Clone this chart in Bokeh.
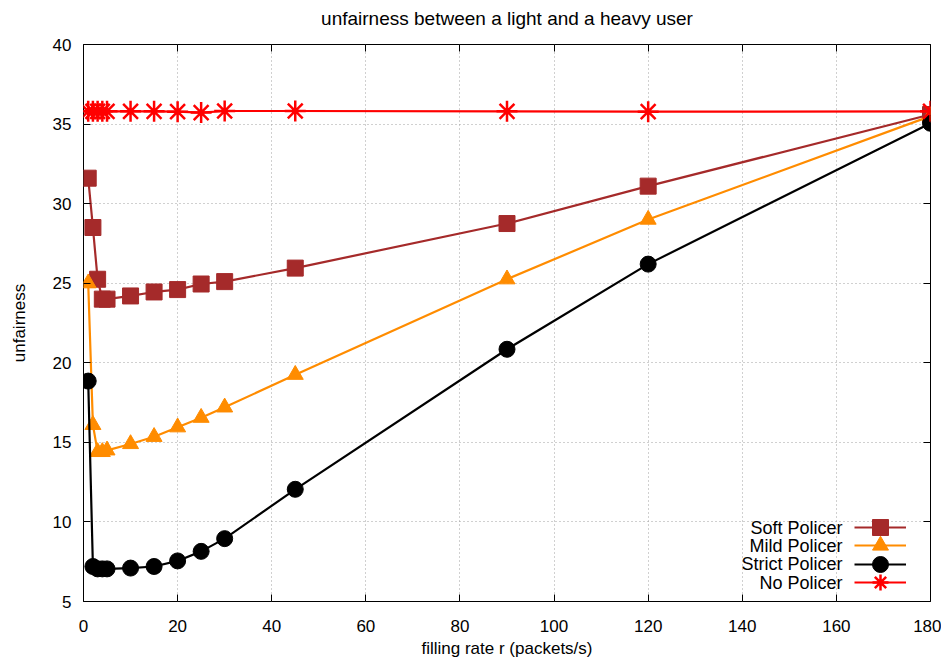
from bokeh.plotting import figure
from bokeh.models import (Range1d, LinearAxis, Legend, LegendItem, Label, FixedTicker)
from bokeh.core.properties import value
from bokeh.embed import file_html
from bokeh.resources import INLINE

rate = [1, 2, 3, 4, 5, 10, 15, 20, 25, 30, 45, 90, 120, 180]
soft = [31.6, 28.5, 25.25, 24.0, 24.0, 24.2, 24.45, 24.6, 24.95, 25.1, 25.95, 28.75, 31.1, 35.6]
mild = [25.0, 16.1, 14.4, 14.4, 14.5, 14.9, 15.35, 15.95, 16.55, 17.2, 19.25, 25.25, 29.0, 35.5]
strict = [18.85, 7.2, 7.05, 7.05, 7.05, 7.1, 7.2, 7.55, 8.15, 8.95, 12.05, 20.85, 26.2, 35.05]
nopol = [35.8, 35.8, 35.8, 35.8, 35.8, 35.8, 35.8, 35.78, 35.72, 35.82, 35.82, 35.8, 35.78, 35.8]

series_names = ["Soft Policer", "Mild Policer", "Strict Policer", "No Policer"]
x_ticks = [0, 20, 40, 60, 80, 100, 120, 140, 160, 180]
y_ticks = [5, 10, 15, 20, 25, 30, 35, 40]
title_text = "unfairness between a light and a heavy user"

FONT = "Liberation Sans"

p = figure(frame_width=847, frame_height=557, min_border_left=83, min_border_right=11,
           min_border_top=44, min_border_bottom=58,
           x_range=Range1d(0, 180), y_range=Range1d(5, 40),
           output_backend="svg", toolbar_location=None,
           x_axis_label="filling rate r (packets/s)", y_axis_label="unfairness")
p.title = None

p.outline_line_color = "#000000"
p.outline_line_width = 1
p.background_fill_color = "white"
p.border_fill_color = "white"

for ax in (p.xaxis[0], p.yaxis[0]):
    ax.major_label_text_font = FONT
    ax.major_label_text_font_size = "17px"
    ax.major_label_text_color = "#000000"
    ax.axis_label_text_font = FONT
    ax.axis_label_text_font_size = "17px"
    ax.axis_label_text_font_style = "normal"
    ax.axis_label_text_color = "#000000"
    ax.axis_line_color = None
    ax.major_tick_in = 7
    ax.major_tick_out = 0
    ax.major_tick_line_color = "#000000"
    ax.minor_tick_line_color = None

p.xaxis[0].ticker = FixedTicker(ticks=x_ticks)
p.yaxis[0].ticker = FixedTicker(ticks=y_ticks)
p.xaxis[0].major_label_standoff = 18
p.yaxis[0].major_label_standoff = 12
p.xaxis[0].axis_label_standoff = 4
p.yaxis[0].axis_label_standoff = 21

# top axis carries the chart title as its axis label
top = LinearAxis(ticker=FixedTicker(ticks=x_ticks), major_label_text_font_size="0px",
                 major_tick_in=7, major_tick_out=0, axis_line_color=None,
                 minor_tick_line_color=None, major_label_standoff=0,
                 axis_label=title_text, axis_label_text_font=FONT,
                 axis_label_text_font_size="19px", axis_label_text_font_style="normal",
                 axis_label_text_color="#000000", axis_label_standoff=16)
right = LinearAxis(ticker=FixedTicker(ticks=y_ticks), major_label_text_font_size="0px",
                   major_tick_in=7, major_tick_out=0, axis_line_color=None,
                   minor_tick_line_color=None, major_label_standoff=0)
top.major_label_text_alpha = 0
right.major_label_text_alpha = 0
p.add_layout(top, "above")
p.add_layout(right, "right")

p.xgrid.ticker = FixedTicker(ticks=x_ticks)
p.ygrid.ticker = FixedTicker(ticks=y_ticks)
for g in (p.xgrid[0], p.ygrid[0]):
    g.grid_line_color = "#a0a0a0"
    g.grid_line_dash = "1 3"
    g.grid_line_width = 1

colors = ["#a52a2a", "#ff8c00", "#000000", "#ff0000"]
markers = ["square", "triangle", "circle", "asterisk"]
sizes = [16, 16, 16, 21]
data = [soft, mild, strict, nopol]

row_y = [74, 56, 37.5, 19]
for name, ys, c, m, s, yy in zip(series_names, data, colors, markers, sizes, row_y):
    ln = p.line(rate, ys, line_color=c, line_width=2.2)
    if m == "asterisk":
        sc = p.scatter(rate, ys, marker=m, size=s, line_color=c, line_width=2.5)
    else:
        sc = p.scatter(rate, ys, marker=m, size=s, fill_color=c, line_color=c, line_width=1)
    leg = Legend(items=[LegendItem(label=value(" "), renderers=[ln, sc])],
                 location=(771, yy - 20), glyph_width=52, glyph_height=40, spacing=0,
                 padding=0, margin=0, label_standoff=0, label_width=0, label_height=40,
                 label_text_font_size="1px", border_line_alpha=0, background_fill_alpha=0)
    p.add_layout(leg)
    p.add_layout(Label(x=759, y=yy, x_units="screen", y_units="screen", text=name,
                       text_align="right", text_baseline="middle", text_font=FONT,
                       text_font_size="18px", text_color="#000000"))

open("out.html", "w").write(file_html(p, INLINE))
